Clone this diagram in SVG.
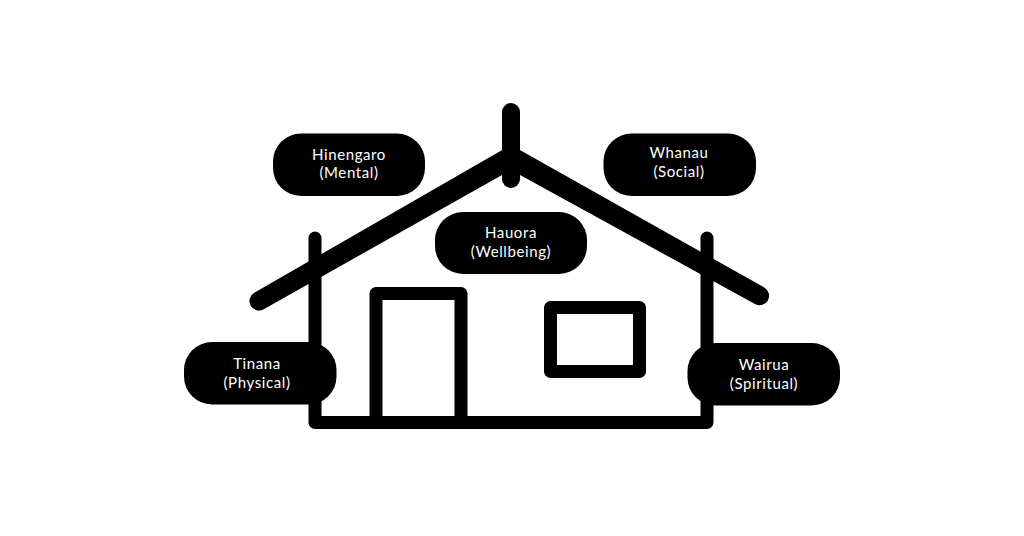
<svg xmlns="http://www.w3.org/2000/svg" width="1024" height="536" viewBox="0 0 1024 536">
<style>
.l{fill:none;stroke:#000;stroke-linecap:round;stroke-linejoin:round}
.w{stroke-width:13}
.p{fill:#000}
text{fill:#fff;font-family:"Lato","Liberation Sans",sans-serif;font-size:15px;letter-spacing:.6px;text-anchor:middle}
</style>
<rect width="1024" height="536" fill="#fff"/>
<g id="house">
<path class="p" d="M254.300 292.700L511 145L764.600 287.700A9.500 9.500 0 0 1 755.400 304.300L511 170L263.700 309.300A9.500 9.500 0 0 1 254.300 292.700Z"/>
<path class="l" style="stroke-width:18" d="M511 112V179"/>
<path class="l w" d="M315 238V422.500H707V238"/>
<path class="l w" style="stroke-linecap:butt" d="M376 422V293.500H461V422"/>
<rect class="l w" x="550.500" y="307.500" width="89" height="64"/>
</g>
<g id="hinengaro"><rect class="p" x="273" y="133.500" width="152" height="62.500" rx="28"/><text x="349" y="160">Hinengaro</text><text x="349" y="178">(Mental)</text></g>
<g id="whanau"><rect class="p" x="603.500" y="133.500" width="152.500" height="62.500" rx="28"/><text x="679" y="158">Whanau</text><text x="679" y="177">(Social)</text></g>
<g id="hauora"><rect class="p" x="435" y="212" width="152" height="62" rx="28"/><text x="511" y="238">Hauora</text><text x="511" y="257">(Wellbeing)</text></g>
<g id="tinana"><rect class="p" x="184" y="342" width="152.500" height="62.500" rx="28"/><text x="257" y="369">Tinana</text><text x="257" y="388">(Physical)</text></g>
<g id="wairua"><rect class="p" x="687.500" y="343" width="152.500" height="62.500" rx="28"/><text x="764" y="370">Wairua</text><text x="764" y="389">(Spiritual)</text></g>
</svg>
